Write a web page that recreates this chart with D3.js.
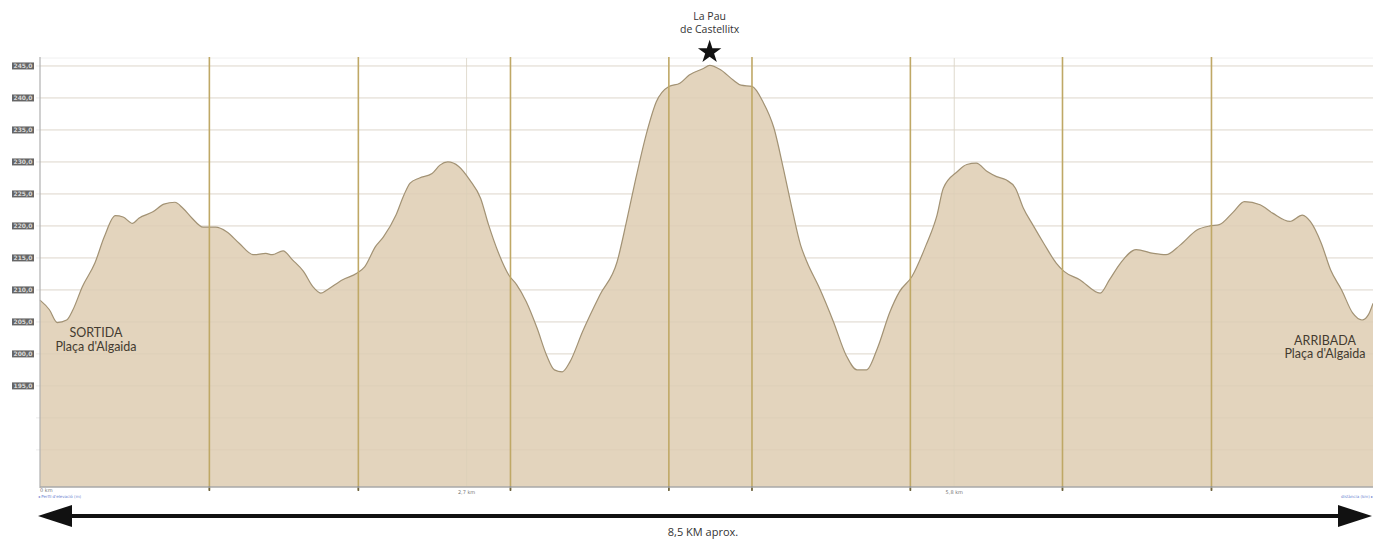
<!DOCTYPE html>
<html>
<head>
<meta charset="utf-8">
<script src="https://cdn.jsdelivr.net/npm/d3@7"></script>
<style>
  body { margin: 0; background: #fff; }
  svg { display: block; }
</style>
</head>
<body>
<div id="chart"></div>
<script>
// distance along the route (km) and elevation (m)
const distance = [0.0, 0.06, 0.11, 0.17, 0.21, 0.27, 0.35, 0.41, 0.48, 0.53, 0.59, 0.63, 0.72, 0.79, 0.86, 0.91, 0.97, 1.04, 1.12, 1.19,
  1.27, 1.36, 1.44, 1.48, 1.55, 1.61, 1.68, 1.74, 1.79, 1.83, 1.93, 2.02, 2.07, 2.14, 2.19, 2.27, 2.32, 2.36, 2.42, 2.50,
  2.55, 2.60, 2.67, 2.74, 2.81, 2.86, 2.92, 2.99, 3.04, 3.10, 3.17, 3.23, 3.28, 3.33, 3.38, 3.46, 3.57, 3.68, 3.74, 3.80,
  3.87, 3.93, 4.01, 4.08, 4.14, 4.23, 4.27, 4.34, 4.42, 4.47, 4.54, 4.61, 4.68, 4.74, 4.79, 4.85, 4.89, 4.97, 5.06, 5.14,
  5.21, 5.27, 5.34, 5.42, 5.48, 5.56, 5.65, 5.72, 5.76, 5.85, 5.91, 5.97, 6.04, 6.10, 6.16, 6.22, 6.27, 6.33, 6.40, 6.48,
  6.53, 6.63, 6.76, 6.82, 6.89, 6.99, 7.10, 7.18, 7.27, 7.38, 7.46, 7.52, 7.61, 7.68, 7.78, 7.86, 7.97, 8.05, 8.10, 8.17,
  8.23, 8.30, 8.37, 8.43, 8.47, 8.50];
const elevation = [208.4, 206.9, 204.9, 205.3, 206.9, 210.5, 214.2, 218.3, 221.6, 221.4, 220.4, 221.2, 222.2, 223.4, 223.7, 222.8, 221.2, 219.8, 219.8, 219.1,
  217.3, 215.5, 215.7, 215.5, 216.1, 214.7, 212.9, 210.5, 209.5, 210.0, 211.6, 212.6, 213.6, 216.8, 218.3, 221.7, 224.8, 226.7, 227.5, 228.2,
  229.5, 230.0, 229.3, 227.2, 224.3, 220.2, 216.0, 212.3, 210.8, 208.2, 204.0, 199.8, 197.5, 197.2, 198.8, 203.5, 209.2, 214.4, 220.7, 227.5,
  234.7, 239.4, 241.8, 242.3, 243.6, 244.6, 245.1, 244.4, 242.8, 242.0, 241.8, 239.4, 235.3, 229.0, 223.3, 217.0, 214.4, 210.3, 205.0, 199.8,
  197.5, 197.5, 200.9, 206.6, 209.7, 212.1, 217.0, 221.7, 225.9, 228.5, 229.6, 229.8, 228.5, 227.7, 227.2, 225.9, 222.8, 220.2, 217.3, 214.2,
  212.9, 211.6, 209.5, 211.6, 214.2, 216.3, 215.7, 215.5, 217.0, 219.4, 220.0, 220.2, 222.2, 223.8, 223.3, 222.0, 220.7, 221.7, 220.7, 217.3,
  213.1, 210.0, 206.4, 205.3, 206.1, 207.9];

const kmMarks = [1.08, 2.03, 3.0, 4.01, 4.54, 5.55, 6.52, 7.47];
const gridKm = [2.72, 5.83];
const gridKmLabels = ["2,7 km", "5,8 km"];
const yTicks = [245, 240, 235, 230, 225, 220, 215, 210, 205, 200, 195];
const yGrid = [245, 240, 235, 230, 225, 220, 215, 210, 205, 200, 195, 190, 185];
const summitKm = 4.27;
const summitLabel = ["La Pau", "de Castellitx"];
const startLabel = ["SORTIDA", "Plaça d'Algaida"];
const endLabel = ["ARRIBADA", "Plaça d'Algaida"];
const totalLabel = "8,5 KM aprox.";

const data = distance.map(function(d, i) { return { x: d, y: elevation[i] }; });

const W = 1373, H = 539;
const x = d3.scaleLinear().domain([0, 8.5]).range([40, 1373]);
const y = d3.scaleLinear().domain([179.2, 246.4]).range([487, 57]);

const svg = d3.select("#chart").append("svg")
    .attr("width", W)
    .attr("height", H);

const fmt = function(v) { return d3.format(".1f")(v).replace(".", ","); };

// horizontal grid
svg.selectAll(".grid")
    .data(yGrid)
  .enter().append("line")
    .attr("class", "grid")
    .attr("x1", 36).attr("x2", W)
    .attr("y1", function(d) { return y(d); })
    .attr("y2", function(d) { return y(d); })
    .style("stroke", "#ececec")
    .style("stroke-width", 1);

svg.append("line")
    .attr("x1", 40).attr("x2", W)
    .attr("y1", 58).attr("y2", 58)
    .style("stroke", "#f0f0f0");

// faint vertical grid
svg.selectAll(".vgrid")
    .data(gridKm)
  .enter().append("line")
    .attr("x1", function(d) { return x(d); })
    .attr("x2", function(d) { return x(d); })
    .attr("y1", 58).attr("y2", 487)
    .style("stroke", "#ebebeb");

// elevation area
const area = d3.area()
    .x(function(d) { return x(d.x); })
    .y0(y(179.2))
    .y1(function(d) { return y(d.y); })
    .curve(d3.curveMonotoneX);

const line = d3.line()
    .x(function(d) { return x(d.x); })
    .y(function(d) { return y(d.y); })
    .curve(d3.curveMonotoneX);

svg.append("path")
    .attr("d", area(data))
    .style("fill", "#e3d4bd");

// grid seen through the fill
svg.selectAll(".gridIn")
    .data(yGrid)
  .enter().append("line")
    .attr("x1", 40).attr("x2", W)
    .attr("y1", function(d) { return y(d); })
    .attr("y2", function(d) { return y(d); })
    .style("stroke", "#d9cbb5")
    .style("stroke-opacity", 0.5);

svg.selectAll(".vgridIn")
    .data(gridKm)
  .enter().append("line")
    .attr("x1", function(d) { return x(d); })
    .attr("x2", function(d) { return x(d); })
    .attr("y1", 58).attr("y2", 487)
    .style("stroke", "#dccfb9")
    .style("stroke-opacity", 0.5);

svg.append("path")
    .attr("d", line(data))
    .style("fill", "none")
    .style("stroke", "#a29274")
    .style("stroke-width", 1.2);

// km marker lines
svg.selectAll(".km")
    .data(kmMarks)
  .enter().append("line")
    .attr("x1", function(d) { return x(d); })
    .attr("x2", function(d) { return x(d); })
    .attr("y1", 57).attr("y2", 490)
    .style("stroke", "#bfa866")
    .style("stroke-width", 1.6);

svg.selectAll(".kmTick")
    .data(kmMarks)
  .enter().append("line")
    .attr("x1", function(d) { return x(d); })
    .attr("x2", function(d) { return x(d); })
    .attr("y1", 486).attr("y2", 491)
    .style("stroke", "#6e6440")
    .style("stroke-width", 1.6);

// axes
svg.append("line")
    .attr("x1", 40).attr("x2", 40)
    .attr("y1", 57).attr("y2", 488)
    .style("stroke", "#b0b0b0")
    .style("stroke-width", 1.2);

svg.append("line")
    .attr("x1", 40).attr("x2", W)
    .attr("y1", 487).attr("y2", 487)
    .style("stroke", "#a8a8a8")
    .style("stroke-width", 1.5);

const yLab = svg.selectAll(".ylab")
    .data(yTicks)
  .enter().append("g")
    .attr("transform", function(d) { return "translate(23," + y(d) + ")"; });

yLab.append("rect")
    .attr("x", -11).attr("y", -3.5)
    .attr("width", 22).attr("height", 7)
    .style("fill", "#666");

yLab.append("text")
    .attr("text-anchor", "middle")
    .attr("dy", "0.35em")
    .style("font", "bold 6px 'DejaVu Sans'")
    .style("fill", "#d8d8d8")
    .text(function(d) { return fmt(d); });

// tiny x labels
svg.append("text")
    .attr("x", x(0)).attr("y", 492)
    .style("font", "5px 'DejaVu Sans'")
    .style("fill", "#777")
    .text("0 km");

svg.selectAll(".xlab")
    .data(gridKm)
  .enter().append("text")
    .attr("x", function(d) { return x(d); })
    .attr("y", 494)
    .attr("text-anchor", "middle")
    .style("font", "5px 'DejaVu Sans'")
    .style("fill", "#777")
    .text(function(d, i) { return gridKmLabels[i]; });

svg.append("text")
    .attr("x", 38).attr("y", 498)
    .style("font", "4px 'DejaVu Sans'")
    .style("fill", "#6a7fd0")
    .text("◂ Perfil d'elevació (m)");

svg.append("text")
    .attr("x", W).attr("y", 498)
    .attr("text-anchor", "end")
    .style("font", "4px 'DejaVu Sans'")
    .style("fill", "#6a7fd0")
    .text("distància (km) ▸");

// summit
const sx = x(summitKm);
svg.selectAll(".summit")
    .data(summitLabel)
  .enter().append("text")
    .attr("x", sx)
    .attr("y", function(d, i) { return 20 + i * 13; })
    .attr("text-anchor", "middle")
    .style("font", "10.5px 'Open Sans'")
    .style("fill", "#333")
    .text(function(d) { return d; });

const star = d3.symbol().type(d3.symbolStar).size(170);
svg.append("path")
    .attr("d", star())
    .attr("transform", "translate(" + sx + ",52)")
    .style("fill", "#111");

// start / finish labels
svg.selectAll(".start")
    .data(startLabel)
  .enter().append("text")
    .attr("x", 96)
    .attr("y", function(d, i) { return 337 + i * 14; })
    .attr("text-anchor", "middle")
    .style("font", "12.5px Lato")
    .style("fill", "#433b30")
    .text(function(d) { return d; });

svg.selectAll(".end")
    .data(endLabel)
  .enter().append("text")
    .attr("x", 1325)
    .attr("y", function(d, i) { return 345 + i * 13; })
    .attr("text-anchor", "middle")
    .style("font", "12.5px Lato")
    .style("fill", "#433b30")
    .text(function(d) { return d; });

// distance arrow
svg.append("line")
    .attr("x1", x(0) + 20).attr("x2", x(8.5) - 22)
    .attr("y1", 516).attr("y2", 516)
    .style("stroke", "#111")
    .style("stroke-width", 4);

svg.append("path")
    .attr("d", "M" + (x(0) - 2) + ",516 L" + (x(0) + 32) + ",505 L" + (x(0) + 32) + ",527 Z")
    .style("fill", "#111");

svg.append("path")
    .attr("d", "M" + (x(8.5) - 1) + ",516 L" + (x(8.5) - 35) + ",505 L" + (x(8.5) - 35) + ",527 Z")
    .style("fill", "#111");

svg.append("text")
    .attr("x", 703).attr("y", 536)
    .attr("text-anchor", "middle")
    .style("font", "11px 'Open Sans'")
    .style("fill", "#333")
    .text(totalLabel);
</script>
</body>
</html>
